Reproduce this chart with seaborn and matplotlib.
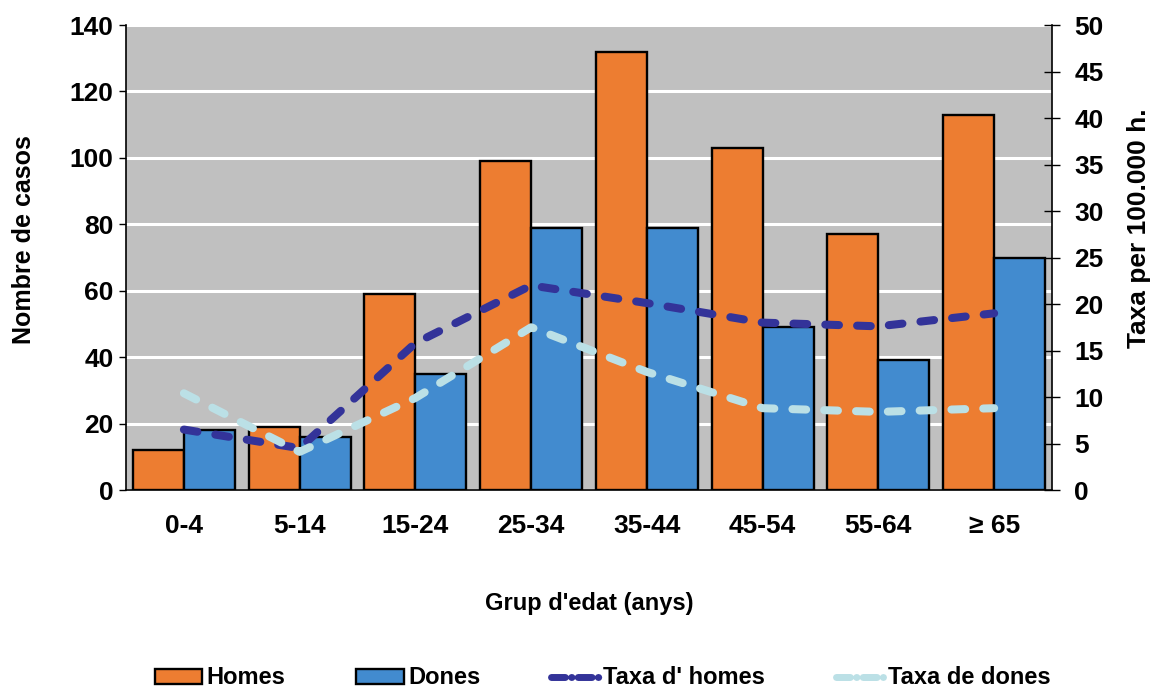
import numpy as np
import pandas as pd
import seaborn as sns
import matplotlib
matplotlib.use("Agg")
import matplotlib.pyplot as plt
from matplotlib.patches import Patch
from matplotlib.lines import Line2D
from matplotlib.ticker import FixedLocator, NullFormatter

# Age groups and case counts by sex
grups = ["0-4", "5-14", "15-24", "25-34", "35-44", "45-54", "55-64", "≥ 65"]
homes = [12, 19, 59, 99, 132, 103, 77, 113]
dones = [18, 16, 35, 79, 79, 49, 39, 70]

# Rates per 100,000 inhabitants
taxa_homes = [6.5, 4.5, 15.8, 22.0, 20.1, 18.0, 17.6, 19.0]
taxa_dones = [10.4, 4.1, 9.9, 17.5, 12.7, 8.8, 8.4, 8.8]

sexes = ["Homes", "Dones"]
left_ticks = [0, 20, 40, 60, 80, 100, 120, 140]
right_ticks = [0, 5, 10, 15, 20, 25, 30, 35, 40, 45, 50]

C_HOMES = "#ED7D31"
C_DONES = "#428BCF"
C_TAXA_H = "#333399"
C_TAXA_D = "#BBE0E6"

sns.set_style("white")
plt.rcParams["font.family"] = ["Liberation Sans", "DejaVu Sans"]
plt.rcParams["font.weight"] = "bold"
for key in ["text.color", "axes.labelcolor", "xtick.color", "ytick.color"]:
    plt.rcParams[key] = "black"

df = pd.DataFrame({
    "grup": grups * 2,
    "casos": homes + dones,
    "sexe": [sexes[0]] * len(grups) + [sexes[1]] * len(grups),
})

fig = plt.figure(figsize=(11.5, 6.89), dpi=100)
ax = fig.add_axes([0.1096, 0.2888, 0.8052, 0.6749])
ax.set_facecolor("#C0C0C0")

sns.barplot(data=df, x="grup", y="casos", hue="sexe", hue_order=sexes,
            order=grups, palette=[C_HOMES, C_DONES], saturation=1,
            width=0.88, edgecolor="black", linewidth=1.7, ax=ax,
            legend=False, errorbar=None)

ax.set_ylim(0, 140)
ax.set_xlim(-0.5, len(grups) - 0.5)
ax.set_yticks(left_ticks)
ax.yaxis.grid(True, color="white", linewidth=2.2)
ax.set_axisbelow(True)
ax.set_xlabel("Grup d'edat (anys)", fontsize=17, fontweight="bold", labelpad=39)
ax.set_ylabel("Nombre de casos", fontsize=18, fontweight="bold")
ax.yaxis.set_label_coords(-0.097, 0.538)
ax.tick_params(axis="y", direction="out", length=5, width=1, labelsize=19, pad=4)
ax.tick_params(axis="x", which="major", length=0, labelsize=19, pad=17)
ax.xaxis.set_minor_locator(FixedLocator(np.arange(-0.5, len(grups), 1.0)))
ax.xaxis.set_minor_formatter(NullFormatter())
ax.tick_params(axis="x", which="minor", direction="out", length=6, width=1)
for lbl in ax.get_xticklabels() + ax.get_yticklabels():
    lbl.set_fontweight("bold")
for side in ["top", "right"]:
    ax.spines[side].set_visible(False)
for side in ["left", "bottom"]:
    ax.spines[side].set_color("black")
    ax.spines[side].set_linewidth(1.2)

# Rate lines on the secondary axis
ax2 = ax.twinx()
pos = np.arange(len(grups))
line_kw = dict(linewidth=5.8, linestyle=(0, (1.7, 2.25)),
               dash_capstyle="round", solid_capstyle="round")
sns.lineplot(x=pos, y=taxa_homes, color=C_TAXA_H, ax=ax2, **line_kw)
sns.lineplot(x=pos, y=taxa_dones, color=C_TAXA_D, ax=ax2, **line_kw)
ax2.set_ylim(0, 50)
ax2.set_xlim(-0.5, len(grups) - 0.5)
ax2.set_yticks(right_ticks)
ax2.tick_params(axis="y", direction="inout", length=12, width=1, labelsize=19, pad=10)
for lbl in ax2.get_yticklabels():
    lbl.set_fontweight("bold")
ax2.set_ylabel("Taxa per 100.000 h.", fontsize=19, fontweight="bold")
ax2.yaxis.set_label_coords(1.0815, 0.563)
ax2.spines["top"].set_visible(False)
ax2.spines["left"].set_visible(False)
ax2.spines["bottom"].set_visible(False)
ax2.spines["right"].set_color("black")
ax2.spines["right"].set_linewidth(1.2)

handles = [
    Patch(facecolor=C_HOMES, edgecolor="black", linewidth=1.7),
    Patch(facecolor=C_DONES, edgecolor="black", linewidth=1.7),
    Line2D([], [], color=C_TAXA_H, linewidth=5, linestyle=(0, (2.0, 0.9, 0.05, 0.9)),
           dash_capstyle="round"),
    Line2D([], [], color=C_TAXA_D, linewidth=5, linestyle=(0, (2.0, 0.9, 0.05, 0.9)),
           dash_capstyle="round"),
]
labels = ["Homes", "Dones", "Taxa d' homes", "Taxa de dones"]
fig.legend(handles, labels, loc="center", bbox_to_anchor=(0.524, 0.016),
           ncol=4, frameon=False, handlelength=2.0, handleheight=0.6,
           handletextpad=0.2, columnspacing=3.0, prop={"weight": "bold", "size": 17})

fig.savefig("out.png", dpi=100)
